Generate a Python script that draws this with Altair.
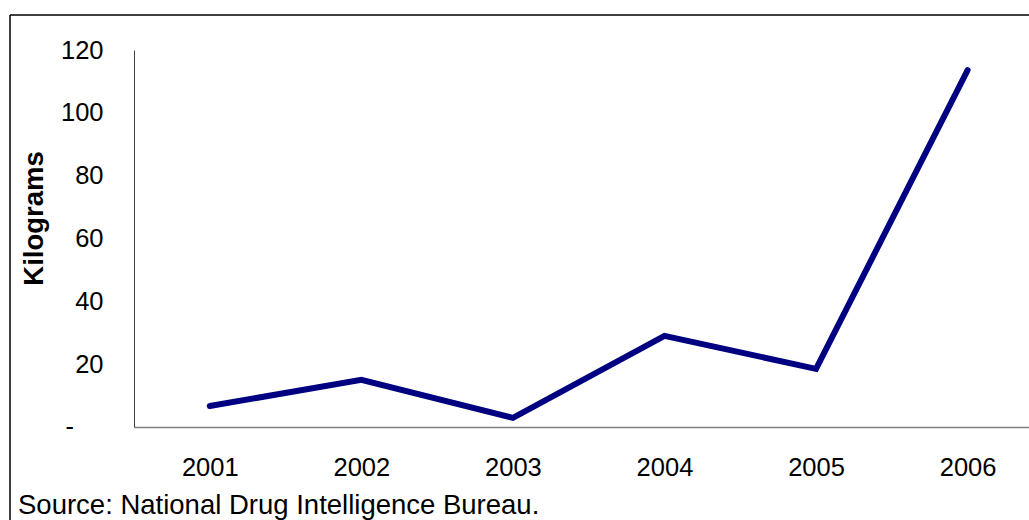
import altair as alt
import pandas as pd

years = [2001, 2002, 2003, 2004, 2005, 2006]
kilograms = [6.7, 15.0, 2.9, 29.0, 18.5, 113.6]
y_ticks = [0, 20, 40, 60, 80, 100, 120]
zero_label = ["-"]
source_text = ["Source: National Drug Intelligence Bureau."]

df = pd.DataFrame({"year": years, "kg": kilograms})

FONT = "Liberation Sans"
W, H = 895, 377

line = alt.Chart(df).mark_line(color="#000080", strokeWidth=6, strokeCap="round", strokeJoin="miter").encode(
    x=alt.X("year:Q",
            scale=alt.Scale(domain=[2000.5, 2006.405], nice=False, zero=False),
            axis=alt.Axis(values=years, format="d", title=None, ticks=False, grid=False,
                          domainColor="#808080", domainWidth=1.5,
                          labelFontSize=25.5, labelFont=FONT, labelColor="#000000",
                          labelPadding=28, labelFlush=False)),
    y=alt.Y("kg:Q",
            scale=alt.Scale(domain=[0, 120], nice=False),
            axis=alt.Axis(values=y_ticks, title="Kilograms", ticks=False, grid=False,
                          domainColor="#404040", domainWidth=1,
                          labelFontSize=25.5, labelFont=FONT, labelColor="#000000",
                          labelPadding=31,
                          labelExpr="datum.value == 0 ? '' : datum.label",
                          titleFont=FONT, titleFontSize=27.5, titleFontWeight="bold",
                          titleColor="#000000", titleX=-100, titleY=168,
                          titleAngle=270, titleAlign="center", titleBaseline="middle")),
)

zero_df = pd.DataFrame({"v": [0], "t": zero_label})
zero = alt.Chart(zero_df).mark_text(align="right", baseline="middle", fontSize=25.5, font=FONT,
                                    color="#000000").encode(
    y=alt.Y("v:Q", scale=alt.Scale(domain=[0, 120], nice=False)),
    x=alt.value(-60), text="t:N")

one = alt.Data(values=[{"t": source_text[0]}])

border_top = alt.Chart(one).mark_rule(color="#000000", strokeWidth=1.5).encode(
    x=alt.value(-124), x2=alt.value(W + 20), y=alt.value(-35))
border_left = alt.Chart(one).mark_rule(color="#000000", strokeWidth=1.5).encode(
    x=alt.value(-124), y=alt.value(-35), y2=alt.value(H + 120))

source = alt.Chart(one).mark_text(align="left", baseline="middle", fontSize=27.5, font=FONT,
                                  color="#000000").encode(
    text="t:N", x=alt.value(-116), y=alt.value(456))

chart = alt.layer(border_top, border_left, line, zero, source).properties(
    width=W, height=H,
    autosize=alt.AutoSizeParams(type="none"),
    padding={"left": 134, "top": 50, "right": 0, "bottom": 93},
    background="#ffffff",
).configure_view(strokeOpacity=0)

chart.save("out.html", embed_options={"renderer": "svg", "actions": False})
